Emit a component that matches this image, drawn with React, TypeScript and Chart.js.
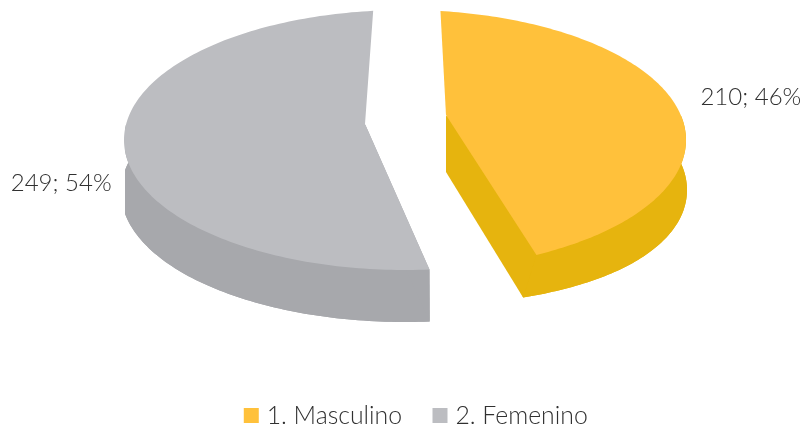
import React, { useEffect, useRef } from "react";
import { Chart, registerables } from "chart.js";

Chart.register(...registerables);

const categories = ["1. Masculino", "2. Femenino"];
const counts = [210, 249];
const percents = ["46%", "54%"];
const topColors = ["#FFC13B", "#BCBDC1"];
const sideColors = ["#E6B40E", "#A7A8AC"];

// Rim ellipse shared by both slices, and the pulled-apart tips of the slices
const CX = 405, CY = 140, RX = 281, RY = 130;
const tips = [[446, 115], [365, 124]];
const tipDepth = [57, 57];
// Gap between slices on the rim, in degrees trimmed from each end of a slice
const trims = [[7.85, 12], [10.9, 5.9]];
// Horizontal range in which each slice's side wall is visible
const sideClip = [[446, 804], [125, 430]];
const labelFactor = 1.24;
const labelShift = [-20, 20];
const labelOffsetX = 1;
const textColor = "#303030";
const DEG = Math.PI / 180;

function rimOffset(i: number, t: number) {
  const s = Math.sin(t), c = Math.cos(t), p = Math.max(s, 0);
  if (i === 0) return { x: -20 * p * p * p + c, y: 50 - 12 * p * p * p * p };
  return { x: 3 * c, y: 52 };
}

const pie3d = {
  id: "pie3d",
  beforeDatasetsDraw(chart: any) {
    const ctx = chart.ctx;
    const arcs = chart.getDatasetMeta(0).data;
    arcs.forEach((arc: any, i: number) => {
      const { startAngle, endAngle } = arc.getProps(["startAngle", "endAngle"], true);
      const t0 = startAngle + trims[i][0] * DEG;
      const t1 = endAngle - trims[i][1] * DEG;
      const tip = { x: tips[i][0], y: tips[i][1] };
      const tipB = { x: tip.x, y: tip.y + tipDepth[i] };
      const top: any[] = [];
      const bottom: any[] = [];
      const steps = 160;
      for (let s = 0; s <= steps; s++) {
        const t = t0 + ((t1 - t0) * s) / steps;
        const p = { x: CX + RX * Math.cos(t), y: CY + RY * Math.sin(t) };
        const o = rimOffset(i, t);
        top.push(p);
        bottom.push({ x: p.x + o.x, y: p.y + o.y });
      }
      const poly = (pts: any[], color: string) => {
        ctx.beginPath();
        pts.forEach((p, n) => (n ? ctx.lineTo(p.x, p.y) : ctx.moveTo(p.x, p.y)));
        ctx.closePath();
        ctx.fillStyle = color;
        ctx.fill();
      };
      ctx.save();
      ctx.beginPath();
      ctx.rect(sideClip[i][0], tip.y + 1, sideClip[i][1] - sideClip[i][0], 431);
      ctx.clip();
      const side = sideColors[i];
      poly([tip, tipB, ...bottom], side);
      poly([...top, ...bottom.slice().reverse()], side);
      const near = i === 0 ? steps : 0;
      poly([tip, tipB, bottom[near], top[near]], side);
      ctx.restore();
      poly([tip, ...top], topColors[i]);
    });
    arcs.forEach((arc: any, i: number) => {
      const { startAngle, endAngle } = arc.getProps(["startAngle", "endAngle"], true);
      const mid = (startAngle + endAngle) / 2;
      ctx.save();
      ctx.font = "300 24px Lato";
      ctx.fillStyle = textColor;
      ctx.textAlign = "center";
      ctx.textBaseline = "middle";
      ctx.fillText(
        `${counts[i]}; ${percents[i]}`,
        CX + labelFactor * RX * Math.cos(mid) + labelOffsetX,
        CY + labelFactor * RY * Math.sin(mid) + labelShift[i]
      );
      ctx.restore();
    });
    return false;
  },
};

export default function App() {
  const ref = useRef<HTMLCanvasElement>(null);
  useEffect(() => {
    const chart = new Chart(ref.current!, {
      type: "pie",
      data: {
        labels: categories,
        datasets: [{ data: counts, backgroundColor: topColors, borderWidth: 0 }],
      },
      options: {
        animation: false,
        responsive: false,
        rotation: -0.6,
        layout: { padding: { bottom: -7, left: 32 } },
        plugins: {
          tooltip: { enabled: false },
          legend: {
            position: "bottom",
            labels: {
              font: { family: "Lato", size: 24.8, weight: "300" },
              color: textColor,
              usePointStyle: true,
              pointStyle: "rect",
              boxWidth: 6,
              boxHeight: 15,
              padding: 35,
            },
          },
        },
      },
      plugins: [pie3d],
    } as any);
    return () => chart.destroy();
  }, []);
  return (
    <div style={{ position: "absolute", left: 0, top: 0, width: 804, height: 431, background: "#fff" }}>
      <canvas ref={ref} width={804} height={431} style={{ display: "block" }} />
    </div>
  );
}
